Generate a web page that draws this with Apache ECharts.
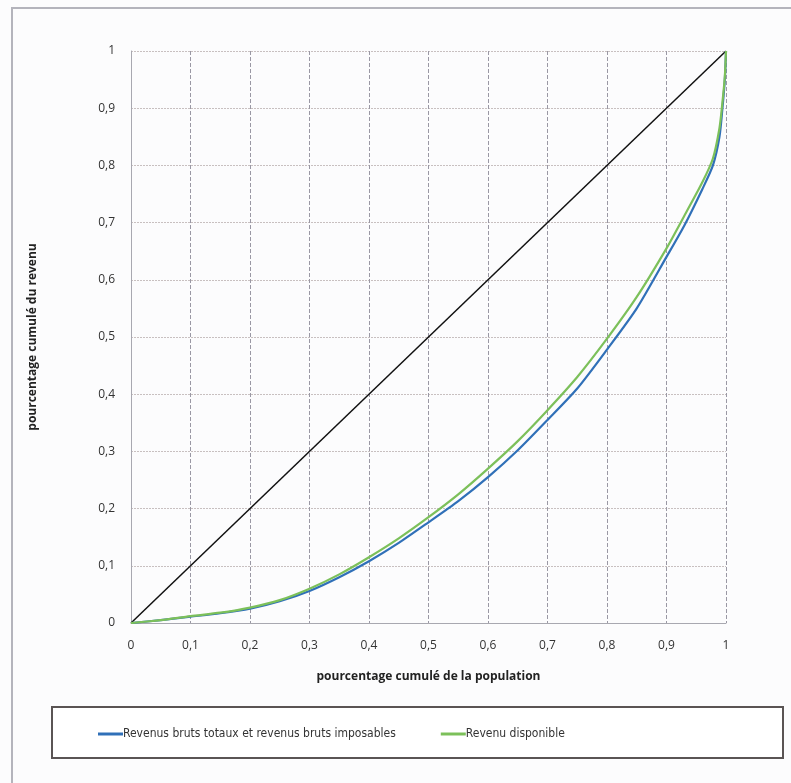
<!DOCTYPE html>
<html><head><meta charset="utf-8">
<script src="https://cdn.jsdelivr.net/npm/echarts@6/dist/echarts.min.js"></script>
<style>html,body{margin:0;padding:0;background:#fcfcfd;}#c{width:791px;height:783px;}</style>
</head><body><div id="c"></div>
<script>
const popShare = [0,0.05,0.1,0.15,0.2,0.25,0.3,0.35,0.4,0.45,0.5,0.55,0.6,0.65,0.7,0.75,0.8,0.85,0.9,0.93,0.96,0.978,0.989,0.994,0.998,1];
const revenuBrut = [0,0.005,0.011,0.017,0.025,0.038,0.056,0.08,0.108,0.14,0.176,0.213,0.255,0.302,0.355,0.41,0.478,0.55,0.64,0.695,0.758,0.80,0.85,0.90,0.95,1];
const revenuDispo = [0,0.005,0.012,0.018,0.027,0.04,0.06,0.085,0.115,0.148,0.185,0.225,0.27,0.318,0.372,0.43,0.497,0.57,0.655,0.712,0.77,0.812,0.865,0.91,0.955,1];
const equality = [[0,0],[1,1]];
const seriesNames = ['Revenus bruts totaux et revenus bruts imposables','Revenu disponible'];
const xTitle = 'pourcentage cumulé de la population';
const yTitle = 'pourcentage cumulé du revenu';

const fmt = v => String(Math.round(v*10)/10).replace('.', ',');
const chart = echarts.init(document.getElementById('c'));
chart.setOption({
  backgroundColor: '#fcfcfd',
  animation: false,
  graphic: [
    {type:'rect', shape:{x:12,y:8,width:800,height:800}, style:{fill:'none', stroke:'#b4b4bc', lineWidth:2}, silent:true},
    {type:'rect', shape:{x:52,y:707,width:731,height:51}, style:{fill:'#ffffff', stroke:'#5a5454', lineWidth:2}, silent:true, z:0}
  ],
  grid: {left:131, right:65, top:51, bottom:160},
  legend: {
    left: 93, top: 723, itemWidth: 25, itemHeight: 3, itemGap: 45,
    icon: 'rect',
    textStyle: {fontFamily:'"DejaVu Sans Condensed", "Roboto Condensed", Roboto, sans-serif', fontSize:12, color:'#333', padding:[0,0,0,-5]},
    data: seriesNames
  },
  xAxis: {
    type:'value', min:0, max:1, interval:0.1,
    name: xTitle, nameLocation:'middle', nameGap:48,
    nameTextStyle:{fontFamily:'Open Sans', fontWeight:'bold', fontSize:12, color:'#222'},
    axisLine:{show:true, lineStyle:{color:'#a8a8b0'}},
    axisTick:{show:false},
    axisLabel:{formatter:fmt, margin:17, fontFamily:'Open Sans', fontSize:12, color:'#333'},
    splitLine:{show:true, lineStyle:{color:'#9a98a4', type:[4,2], width:1}}
  },
  yAxis: {
    type:'value', min:0, max:1, interval:0.1,
    name: yTitle, nameLocation:'middle', nameGap:70, nameRotate:90,
    nameTextStyle:{fontFamily:'Open Sans', fontWeight:'bold', fontSize:12, color:'#222', padding:[0,0,22,0]},
    axisLine:{show:true, lineStyle:{color:'#a8a8b0'}},
    axisTick:{show:false},
    axisLabel:{formatter:fmt, margin:16, fontFamily:'Open Sans', fontSize:12, color:'#333'},
    splitLine:{show:true, lineStyle:{color:'#c8c0c0', type:[2,1], width:1}}
  },
  series: [
    {type:'line', data:equality, showSymbol:false, silent:true, lineStyle:{color:'#111', width:1.5}, z:2},
    {name:seriesNames[0], type:'line', smooth:0.25, showSymbol:false, data:popShare.map((x,i)=>[x,revenuBrut[i]]), itemStyle:{color:'#3070b8'}, lineStyle:{color:'#3070b8', width:2.2}, z:3},
    {name:seriesNames[1], type:'line', smooth:0.25, showSymbol:false, data:popShare.map((x,i)=>[x,revenuDispo[i]]), itemStyle:{color:'#7cc05a'}, lineStyle:{color:'#7cc05a', width:2.2}, z:4}
  ]
});
</script></body></html>
